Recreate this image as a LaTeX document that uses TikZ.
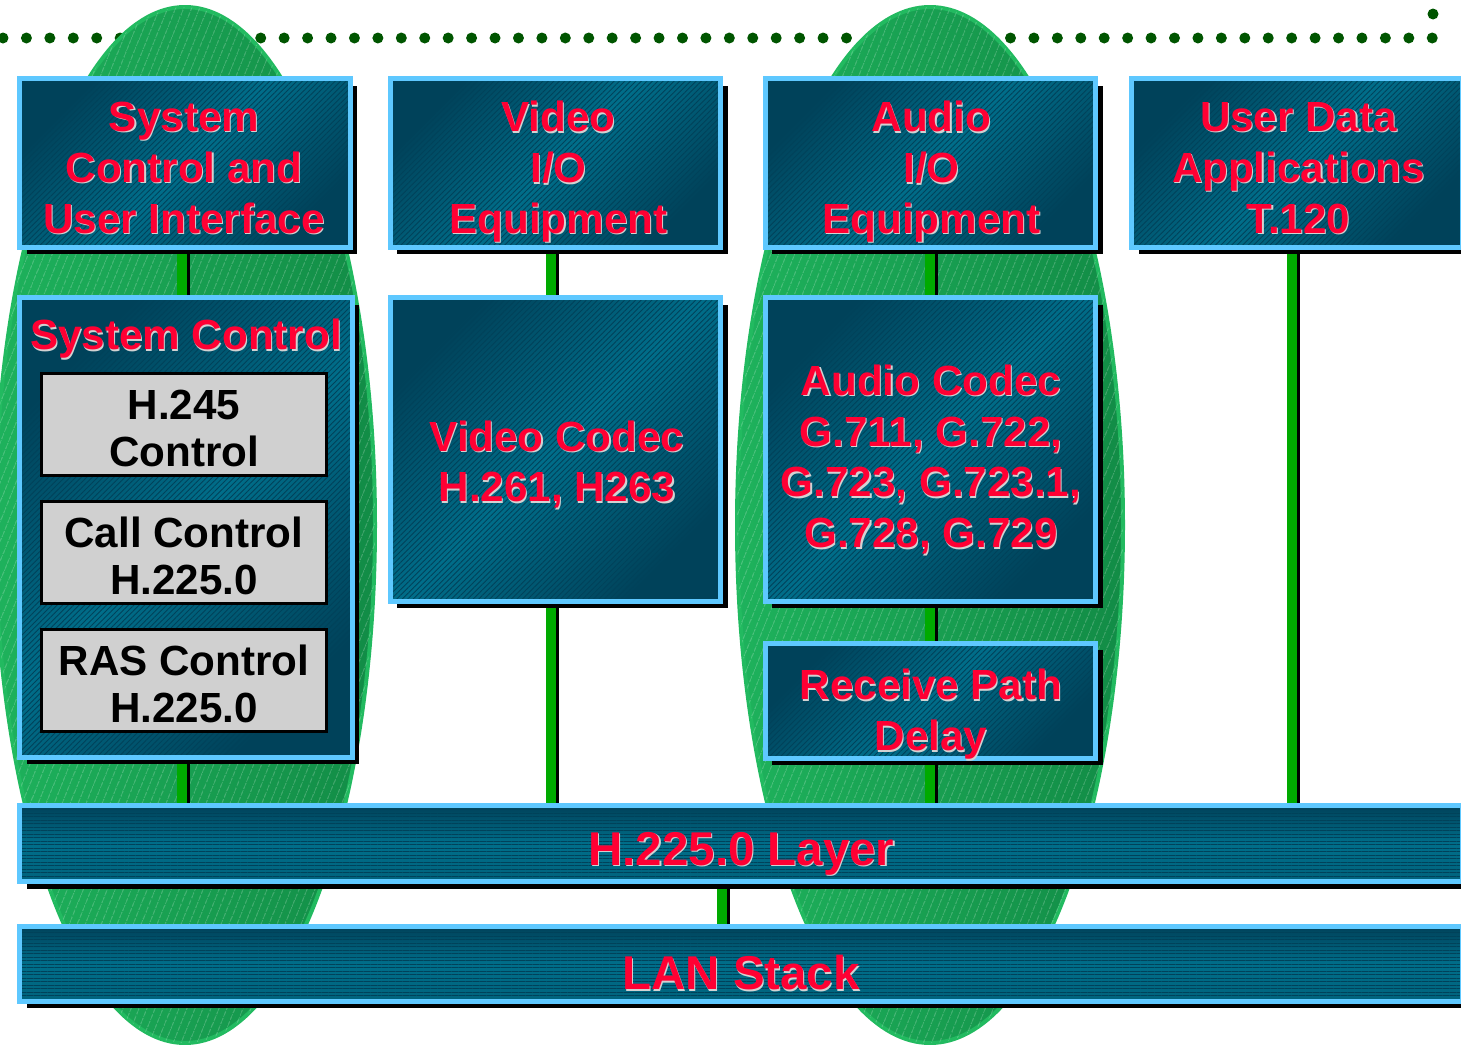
\documentclass[tikz,border=0pt]{standalone}
\usepackage{fontspec}
\setmainfont{Liberation Sans}
\usetikzlibrary{positioning,shadows,patterns.meta,backgrounds}
\definecolor{dotgreen}{RGB}{0,85,0}
\definecolor{leafA}{RGB}{30,178,92}
\definecolor{leafB}{RGB}{18,140,70}
\definecolor{leafedge}{RGB}{34,186,96}
\definecolor{tealA}{RGB}{0,66,90}
\definecolor{tealB}{RGB}{0,110,138}
\definecolor{rimblue}{RGB}{94,200,255}
\definecolor{wirered}{RGB}{255,0,51}
\definecolor{txtshade}{RGB}{210,210,210}
\definecolor{linkgreen}{RGB}{0,170,0}
\definecolor{greyfill}{RGB}{208,208,208}

\newcommand\redtext[3]{%
  \node[redlbl, text=txtshade] (#1-sh) at ([shift={(0.65pt,-0.65pt)}]#2) {#3};
  \node[redlbl] (#1) at (#2) {#3};}

\begin{document}
\begin{tikzpicture}[x=0.02cm, y=-0.02cm,
    leaf/.style={draw=leafedge, line width=0.08cm, left color=leafA, right color=leafB,
      postaction={pattern={Lines[angle=68, distance=4pt, line width=0.35pt]}, pattern color=white, fill opacity=0.22}},
    tealbox/.style={inner sep=0pt, top color=tealA, bottom color=tealA, middle color=tealB, shading angle=45,
      drop shadow={shadow xshift=0.14cm, shadow yshift=-0.14cm, fill=black, opacity=1},
      postaction={pattern={Lines[angle=45, distance=2.2pt, line width=0.5pt]}, pattern color=tealA, fill opacity=0.45},
      postaction={draw=rimblue, line width=0.1cm}},
    barbox/.style={inner sep=0pt, minimum width=28.86cm, top color=tealA, bottom color=tealB!90!black, middle color=tealB,
      drop shadow={shadow xshift=0.14cm, shadow yshift=-0.14cm, fill=black, opacity=1},
      postaction={pattern={Lines[angle=0, distance=2pt, line width=0.5pt]}, pattern color=tealA, fill opacity=0.4},
      postaction={draw=rimblue, line width=0.1cm}},
    topbox/.style={minimum width=6.62cm, minimum height=3.38cm},
    codecbox/.style={minimum width=6.62cm, minimum height=6.08cm},
    greybox/.style={draw=black, line width=0.06cm, fill=greyfill, inner sep=0pt,
      minimum width=5.7cm, minimum height=2.04cm},
    redlbl/.style={font=\fontsize{24}{29}\selectfont\bfseries, text=wirered, align=center, inner sep=0pt},
    blklbl/.style={font=\fontsize{24}{26.7}\selectfont\bfseries, text=black, align=center, inner sep=0pt},
    link/.style={draw=linkgreen, line width=0.2cm,
      preaction={draw=black, line width=0.2cm, transform canvas={xshift=0.06cm}}}]
  \useasboundingbox (0,0) rectangle (1461,1045);

  \begin{scope}[on background layer]
    \foreach \i in {0,...,61}
      \fill[dotgreen] ({3+\i*23.43},38) circle [radius=0.11cm];
    \fill[dotgreen] (1433,14) circle [radius=0.11cm];
    \draw[leaf] (185,525) ellipse [x radius=190, y radius=518];
    \draw[leaf] (930,525) ellipse [x radius=193, y radius=518];
  \end{scope}

  \node[tealbox, topbox] (sysui) at (185,163) {};
  \node[tealbox, topbox] (vidio) at (555.5,163) {};
  \node[tealbox, topbox] (audio) at (930.5,163) {};
  \node[tealbox, topbox] (userdata) at (1297,163) {};
  \node[tealbox, minimum width=6.66cm, minimum height=9.2cm] (sysctl) at (186,527.5) {};
  \node[tealbox, codecbox] (vcodec) at (555.5,449.5) {};
  \node[tealbox, codecbox] (acodec) at (930.5,449.5) {};
  \node[tealbox, minimum width=6.62cm, minimum height=2.3cm, below=0.82cm of acodec] (rpd) {};
  \node[greybox] (h245) at (184,424.5) {};
  \node[greybox, below=0.46cm of h245] (callctl) {};
  \node[greybox, below=0.46cm of callctl] (rasctl) {};
  \node[barbox, minimum height=1.52cm] (h225) at (741,843.5) {};
  \node[barbox, minimum height=1.5cm, below=0.88cm of h225] (lan) {};

  \redtext{sysui-t}{184,168}{System\\Control and\\User Interface}
  \redtext{vidio-t}{558.5,172}{Video\\I/O\\Equipment}
  \redtext{audio-t}{931.5,172}{Audio\\I/O\\Equipment}
  \redtext{userdata-t}{1298.5,168}{User Data\\Applications\\T.120}
  \redtext{sysctl-t}{186,339}{System Control}
  \redtext{vcodec-t}{557,464.5}{Video Codec\\H.261, H263}
  \redtext{acodec-t}{931,459.5}{Audio Codec\\G.711, G.722,\\G.723, G.723.1,\\G.728, G.729}
  \redtext{rpd-t}{931,714.5}{Receive Path\\Delay}
  \node[blklbl] (h245-t) at ([yshift=-2.2pt]h245) {H.245\\Control};
  \node[blklbl] (callctl-t) at ([yshift=-2.2pt]callctl) {Call Control\\H.225.0};
  \node[blklbl] (rasctl-t) at ([yshift=-2.2pt]rasctl) {RAS Control\\H.225.0};
  \redtext{h225-t}{741.5,854}{\fontsize{27}{30}\selectfont H.225.0 Layer}
  \redtext{lan-t}{741,973}{\fontsize{27}{30}\selectfont LAN Stack}

  \begin{scope}[on background layer]
    \coordinate (colA) at (181.5,0);
    \coordinate (colB) at (551,0);
    \coordinate (colC) at (930,0);
    \coordinate (colD) at (1292,0);
    \coordinate (colM) at (722,0);
    \draw[link] (sysui.south -| colA) -- (sysctl.north -| colA);
    \draw[link] (sysctl.south -| colA) -- (h225.north -| colA);
    \draw[link] (vidio.south -| colB) -- (vcodec.north -| colB);
    \draw[link] (vcodec.south -| colB) -- (h225.north -| colB);
    \draw[link] (audio.south -| colC) -- (acodec.north -| colC);
    \draw[link] (acodec.south -| colC) -- (rpd.north -| colC);
    \draw[link] (rpd.south -| colC) -- (h225.north -| colC);
    \draw[link] (userdata.south -| colD) -- (h225.north -| colD);
    \draw[link] (h225.south -| colM) -- (lan.north -| colM);
  \end{scope}
\end{tikzpicture}
\end{document}
